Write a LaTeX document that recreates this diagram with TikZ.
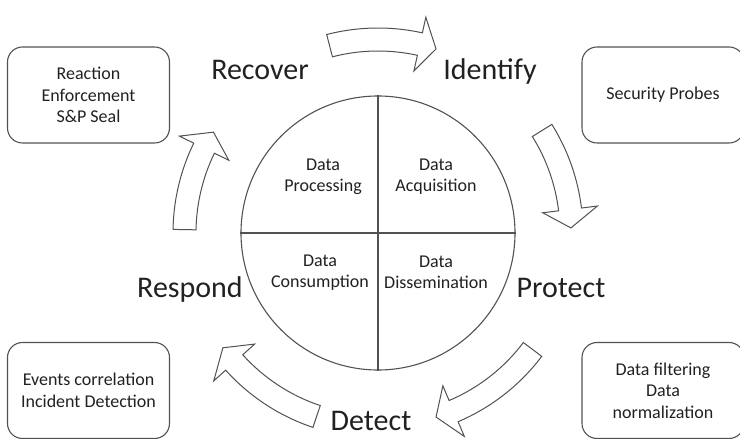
\documentclass[tikz,border=0pt]{standalone}
\usepackage{fontspec}
\setmainfont{Carlito}
\usepackage{tikz}
\usetikzlibrary{positioning}
\definecolor{edgegray}{gray}{0.32}
\definecolor{inkgray}{gray}{0.13}
\tikzset{
  infobox/.style  = {draw=edgegray, line width=1.1pt, rounded corners=15pt,
                     minimum width=162pt, minimum height=96pt, align=center,
                     font=\fontsize{18}{21.5}\selectfont, text=inkgray},
  phase/.style    = {anchor=base, inner sep=0pt, font=\fontsize{30}{36}\selectfont, text=inkgray},
  quad/.style     = {align=center, font=\fontsize{18}{21}\selectfont, text=inkgray},
  cyclearr/.style = {draw=edgegray, line width=1pt, fill=white, line join=miter},
}
% curved block arrow on the ring: start angle, end angle, tip angle
\newcommand{\cyclearrow}[3]{%
  \draw[cyclearr] (#1:205) arc[start angle=#1, end angle=#2, radius=205]
    -- (#2:221) -- (#3:193) -- (#2:166) -- (#2:182)
    arc[start angle=#2, end angle=#1, radius=182] -- cycle;}

\begin{document}
\begin{tikzpicture}[x=1pt,y=1pt]
\useasboundingbox (0,0) rectangle (740,439);

% wheel
\node[draw=edgegray, line width=1.1pt, circle, inner sep=0pt, minimum size=274pt] (wheel) at (378,206) {};
\draw[edgegray, line width=1.1pt] (wheel.north) -- (wheel.south);
\draw[edgegray, line width=1.1pt] (wheel.west) -- (wheel.east);
\node[quad] (proc) at (323,262.5) {Data\\Processing};
\node[quad] (acq)  at (436,262.5) {Data\\Acquisition};
\node[quad] (cons) at (320,166.5) {Data\\Consumption};
\node[quad] (diss) at (436,166.5) {Data\\Dissemination};

% phases
\node[phase] (recover)  at (260,359) {Recover};
\node[phase] (identify) at (490,359) {Identify};
\node[phase] (protect)  at (561,141) {Protect};
\node[phase] (detect)   at (371,8)   {Detect};
\node[phase] (respond)  at (190,141) {Respond};

% ring arrows
\begin{scope}[shift={(wheel.center)}]
\cyclearrow{104.5}{77.5}{72.5}
\cyclearrow{32}{7}{1.5}
\cyclearrow{-37}{-67}{-72.5}
\cyclearrow{-108.5}{-138}{-143.5}
\cyclearrow{179}{154}{148.5}
\end{scope}

% boxes
\node[infobox] (react)  at (88.5,344) {Reaction\\Enforcement\\S\&P Seal};
\node[infobox] (probes) at (663,344)  {Security Probes};
\node[infobox] (events) at (88.5,48.5) {Events correlation\\Incident Detection};
\node[infobox] (filter) at (663,48.5) {Data filtering\\Data\\normalization};
\end{tikzpicture}
\end{document}
